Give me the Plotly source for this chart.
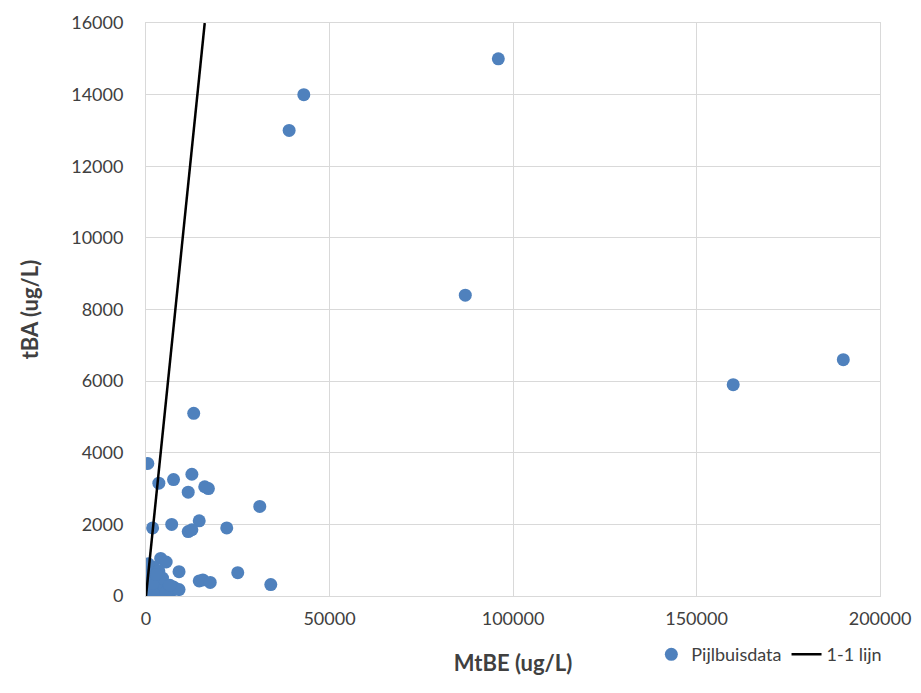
import plotly.graph_objects as go

# MtBE (x) and tBA (y) in ug/L
mtbe = [96000, 43000, 39000, 87000, 160000, 190000,
        13000, 500, 3500, 7500, 12500, 11500, 17000, 16000, 31000,
        1800, 7000, 14500, 11500, 12500, 22000, 4000, 5500, 9000,
        25000, 14500, 15500, 17500, 34000,
        500, 1000, 1500, 2000, 800, 300, 2500, 3000, 4000, 5000,
        6000, 7000, 8000, 1200, 200, 600, 3500, 2200, 100, 4500,
        1800, 5500, 7500, 9000, 2800, 6500]
tba = [15000, 14000, 13000, 8400, 5900, 6600,
       5100, 3700, 3150, 3250, 3400, 2900, 3000, 3050, 2500,
       1900, 2000, 2100, 1800, 1850, 1900, 1050, 950, 680,
       650, 420, 450, 380, 320,
       100, 300, 500, 800, 600, 50, 200, 400, 150, 250,
       200, 150, 200, 250, 400, 900, 700, 50, 200, 500,
       350, 100, 250, 180, 600, 300]

line_x = [0, 16000]
line_y = [0, 16000]

x_ticks = [0, 50000, 100000, 150000, 200000]
y_ticks = [0, 2000, 4000, 6000, 8000, 10000, 12000, 14000, 16000]

fig = go.Figure()
fig.add_trace(go.Scatter(
    x=mtbe, y=tba, mode="markers", name="Pijlbuisdata",
    marker=dict(size=13, color="#4F81BD", line=dict(width=0)),
))
fig.add_trace(go.Scatter(
    x=line_x, y=line_y, mode="lines", name="1-1 lijn",
    line=dict(color="black", width=2.5),
))

FONT = "Lato, 'Open Sans', sans-serif"
tickfont = dict(family=FONT, size=18, color="#404040")
fig.update_layout(
    width=913, height=685,
    margin=dict(l=138, r=41, t=15, b=97),
    paper_bgcolor="white", plot_bgcolor="white",
    showlegend=True,
    legend=dict(orientation="h", x=1.01, xanchor="right", y=-0.07, yanchor="top",
                font=dict(family=FONT, size=18, color="#404040"),
                itemwidth=30, tracegroupgap=0),
    xaxis=dict(
        range=[0, 200000], tickvals=x_ticks, ticktext=[str(v) for v in x_ticks],
        showgrid=True, gridcolor="#D9D9D9", gridwidth=1,
        showline=True, linecolor="#D9D9D9", mirror=True, automargin=False,
        zeroline=False, tickfont=tickfont, ticks="", ticklabelstandoff=6,
        title=dict(text="<b>MtBE (ug/L)</b>", font=dict(family=FONT, size=22, color="#404040"), standoff=28),
    ),
    yaxis=dict(
        range=[0, 16000], tickvals=y_ticks, ticktext=[str(v) for v in y_ticks],
        showgrid=True, gridcolor="#D9D9D9", gridwidth=1,
        showline=True, linecolor="#D9D9D9", mirror=True, automargin=False,
        zeroline=False, tickfont=tickfont, ticks="", ticklabelstandoff=18,
        title=dict(text="<b>tBA (ug/L)</b>", font=dict(family=FONT, size=22, color="#404040"), standoff=26),
    ),
)

fig.write_html("out.html")
